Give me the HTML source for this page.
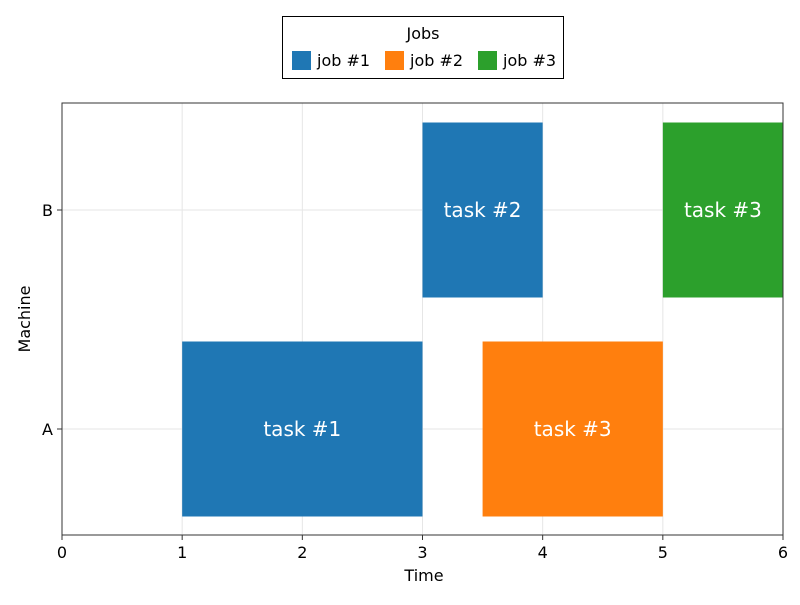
<!DOCTYPE html>
<html><head><meta charset="utf-8"><style>
body{margin:0;background:#fff;}
svg{font-family:"DejaVu Sans","Liberation Sans",sans-serif;}
</style></head><body>
<svg id="chart" width="800" height="600">
<g id="grid"></g>
<g id="bars"></g>
<rect x="62" y="103" width="721" height="432" fill="none" stroke="#333" stroke-width="1"/>
<g id="axes"></g>
<text x="424" y="581" text-anchor="middle" font-size="16" fill="#000">Time</text>
<text x="30" y="319" text-anchor="middle" font-size="16" fill="#000" transform="rotate(-90 30 319)">Machine</text>
<g>
<rect x="282.5" y="16.5" width="281" height="62" fill="#fff" stroke="#000" stroke-width="1"/>
<text x="423" y="39" text-anchor="middle" font-size="16">Jobs</text>
<g><rect x="292" y="51" width="19" height="19" fill="#1f77b4"/><text x="317" y="66" font-size="16">job #1</text></g>
<g><rect x="385" y="51" width="19" height="19" fill="#ff7f0e"/><text x="410" y="66" font-size="16">job #2</text></g>
<g><rect x="478" y="51" width="19" height="19" fill="#2ca02c"/><text x="503" y="66" font-size="16">job #3</text></g>
</g>
</svg>
<script>
const machines = ["A","B"];
const xTicks = [0,1,2,3,4,5,6];
const taskStarts = [1,3,3.5,5];
const taskEnds = [3,4,5,6];
const taskMachines = ["A","B","A","B"];
const taskLabels = ["task #1","task #2","task #3","task #3"];
const taskJobs = [0,0,1,2];
const jobColors = ["#1f77b4","#ff7f0e","#2ca02c"];

const NS="http://www.w3.org/2000/svg";
const X0=62,X1=783,Y0=103,Y1=535;
const xs=v=>X0+(v-0)/(6-0)*(X1-X0);
const yPos={A:429,B:210};
const ys=m=>yPos[m];
const bandH=175;
function mk(t,a,p){const e=document.createElementNS(NS,t);for(const k in a)e.setAttribute(k,a[k]);p.appendChild(e);return e;}
const grid=document.getElementById('grid'),axes=document.getElementById('axes'),bars=document.getElementById('bars');
xTicks.forEach(t=>{
  const x=xs(t);
  const g=mk('line',{x1:x,x2:x,y1:Y0,y2:Y1,stroke:'#e6e6e6'},grid);
  
  
  const tk=mk('line',{x1:x,x2:x,y1:Y1,y2:Y1+5,stroke:'#333'},axes);
  
  
  const lb=mk('text',{x:x,y:Y1+23,'text-anchor':'middle','font-size':16},axes);
  lb.textContent=t;
  
  
});
machines.forEach(m=>{
  const y=ys(m);
  const g=mk('line',{x1:X0,x2:X1,y1:y,y2:y,stroke:'#e6e6e6'},grid);
  
  
  const tk=mk('line',{x1:X0-5,x2:X0,y1:y,y2:y,stroke:'#333'},axes);
  
  
  const lb=mk('text',{x:X0-9,y:y+6,'text-anchor':'end','font-size':16},axes);
  lb.textContent=m;
  
  
});
taskStarts.forEach((s,i)=>{
  const x=xs(s),w=xs(taskEnds[i])-x,cy=ys(taskMachines[i]);
  const r=mk('rect',{x:x,y:cy-bandH/2,width:w,height:bandH,fill:jobColors[taskJobs[i]]},bars);
  
  
  const t=mk('text',{x:x+w/2,y:cy+7,'text-anchor':'middle','font-size':20,fill:'#fff'},bars);
  t.textContent=taskLabels[i];
  
  
});
</script>
</body></html>
